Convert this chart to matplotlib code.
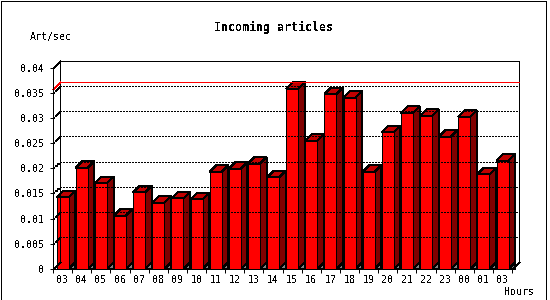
"""
Incoming articles per hour, drawn as a 3D-ish bar chart in the style of
the old GD-based news server reports.
"""

import matplotlib
matplotlib.use("Agg")
import matplotlib.pyplot as plt
from matplotlib.patches import Polygon, Rectangle

hours = ["03", "04", "05", "06", "07", "08", "09", "10", "11", "12", "13", "14",
         "15", "16", "17", "18", "19", "20", "21", "22", "23", "00", "01", "03"]
rates = [0.0142, 0.0201, 0.0170, 0.0106, 0.0152, 0.0132, 0.0140, 0.0138,
         0.0193, 0.0199, 0.0209, 0.0182, 0.0358, 0.0255, 0.0347, 0.0340,
         0.0193, 0.0271, 0.0310, 0.0304, 0.0263, 0.0302, 0.0188, 0.0215]
y_ticks = [0, 0.005, 0.01, 0.015, 0.02, 0.025, 0.03, 0.035, 0.04]
y_labels = ["0", "0.005", "0.01", "0.015", "0.02", "0.025", "0.03", "0.035", "0.04"]

W, H = 550, 300
DEPTH = 6.6            # pixel offset of the back plane (3D effect)
BAR_LEFT, BAR_W = 0.19, 0.63
LW = 0.72              # one pixel at 100 dpi
MONO = "DejaVu Sans Mono"
DASH = (0, (1.44, 1.44))

plt.rcParams["lines.scale_dashes"] = False
plt.rcParams["text.antialiased"] = False

fig = plt.figure(figsize=(W / 100, H / 100), dpi=100)
ax = fig.add_axes([53 / W, 1 - 269 / H, (512 - 53) / W, (269 - 67.5) / H])
n = len(hours)
ax.set_xlim(0, n)
ax.set_ylim(0, 0.04)
ax.patch.set_visible(False)
for side in ("top", "right"):
    ax.spines[side].set_visible(False)
for side in ("left", "bottom"):
    ax.spines[side].set_linewidth(LW)
    ax.spines[side].set_antialiased(False)

ax.set_yticks(y_ticks)
ax.set_yticklabels(y_labels, fontsize=7.2, family=MONO)
ax.tick_params(axis="y", length=2.2, width=LW, pad=4.3)
ax.set_xticks(range(n + 1))
ax.set_xticklabels([])
ax.set_xticks([i + 0.5 for i in range(n)], minor=True)
ax.set_xticklabels(hours, minor=True, fontsize=7.2, family=MONO)
ax.tick_params(axis="x", which="major", length=3, width=LW)
ax.tick_params(axis="x", which="minor", length=0, pad=4.2)


def back(x, y):
    """Push a data point onto the back plane."""
    px = ax.transData.transform((x, y)) + DEPTH
    return tuple(ax.transData.inverted().transform(px))


def line(pts, **kw):
    # one segment per call so straight runs get pixel-snapped
    for a, b in zip(pts[:-1], pts[1:]):
        ax.plot([a[0], b[0]], [a[1], b[1]], lw=LW, clip_on=False,
                antialiased=False, snap=True, **kw)


def poly(pts, color):
    ax.add_patch(Polygon(pts, closed=True, facecolor=color, edgecolor="black",
                         lw=LW, clip_on=False, antialiased=False))


ymax = ax.get_ylim()[1]

# back wall and side edges
line([back(0, 0), back(0, ymax), back(n, ymax), back(n, 0)], color="black")
line([(0, ymax), back(0, ymax)], color="black")
line([(0, 0), back(0, 0)], color="black")
line([(n, 0), back(n, 0)], color="black")

# dashed grid on the back wall
for v in y_ticks[1:-1]:
    line([(0, v), back(0, v), back(n, v)], color="black", ls=DASH)

# peak line
peak = max(rates)
line([(0, peak), back(0, peak), back(n, peak)], color="red")

# bars
for i, v in enumerate(rates):
    x0 = i + BAR_LEFT
    x1 = x0 + BAR_W
    poly([(x1, 0), back(x1, 0), (back(x1, 0)[0], 0)], "#808080")
    poly([(x1, 0), (x1, v), back(x1, v), back(x1, 0)], "#800000")
    poly([(x0, v), (x1, v), back(x1, v), back(x0, v)], "#c00000")
    poly([(x0, 0), (x1, 0), (x1, v), (x0, v)], "#ff0000")

fig.text(273.5 / W, 1 - 27 / H, "Incoming articles", ha="center", va="center",
         fontsize=8.4, family=MONO, weight="bold")
fig.text(30 / W, 1 - 37 / H, "Art/sec", ha="left", va="center",
         fontsize=7.2, family=MONO)
fig.text(504 / W, 1 - 292 / H, "Hours", ha="left", va="center",
         fontsize=7.2, family=MONO)

fig.patches.append(Rectangle((0.5 / W, 0.5 / H), 545.5 / W, 299 / H,
                             transform=fig.transFigure, fill=False,
                             edgecolor="black", lw=LW, antialiased=False))

fig.savefig("out.png", dpi=100)
